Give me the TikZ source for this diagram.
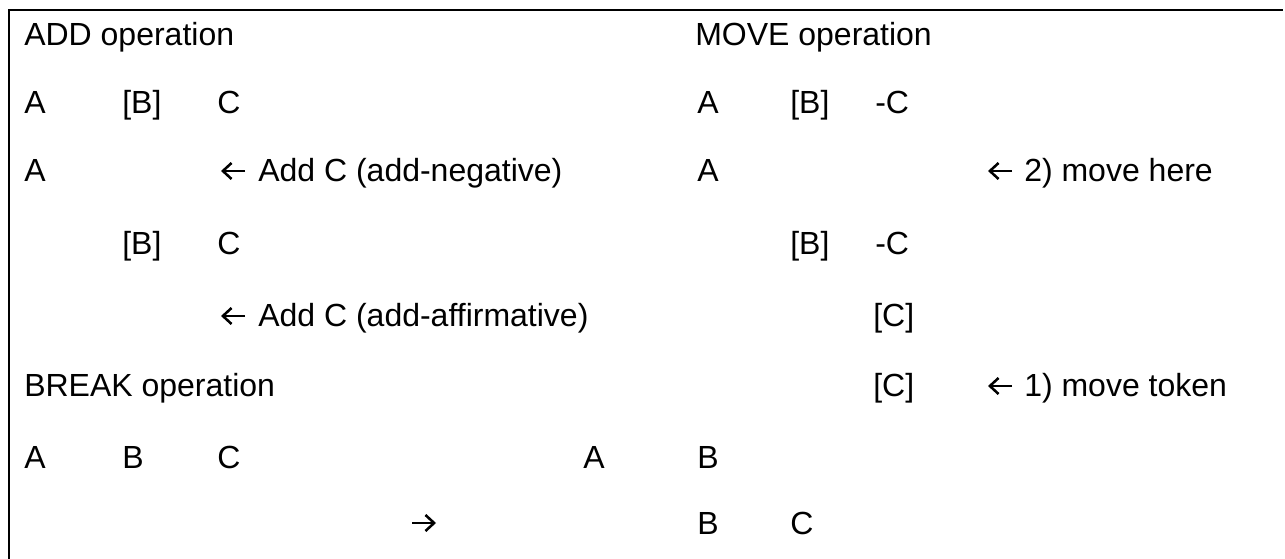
\documentclass[tikz,border=0pt]{standalone}
\usepackage{fontspec}
\setmainfont{Liberation Sans}
\usetikzlibrary{arrows.meta,calc}
\begin{document}
\begin{tikzpicture}[x=0.75pt,y=-0.75pt,
  txt/.style={anchor=base west, inner sep=0pt, font=\fontsize{24}{29}\selectfont},
  frame/.style={line width=2.2pt, line cap=rect},
  pointer/.style={line width=1.9pt, -{Straight Barb[length=6.5pt,width=12pt,line width=1.9pt]}}]
\useasboundingbox (0,0) rectangle (1285,559);
% open frame: top rule and left rule
\coordinate (tr) at (1282,10);
\coordinate (tl) at (9,10);
\coordinate (bl) at (9,559);
\draw[frame] (tr) -- (tl) -- (bl);

% ADD operation
\node[txt] (addT) at (24,46) {ADD operation};
\node[txt] (a1) at (24,114) {A};
\node[txt] (b1) at (122,114) {[B]};
\node[txt] (c1) at (217,114) {C};
\node[txt] (a2) at (24,182) {A};
\node[txt] (n2) at (258,182) {Add C (add-negative)};
\node[txt] (b3) at (122,255) {[B]};
\node[txt] (c3) at (217,255) {C};
\node[txt] (n4) at (258,327) {Add C (add-affirmative)};
\draw[pointer] ($(n2.base west)+(-13,-11)$) -- ++(-24,0);
\draw[pointer] ($(n4.base west)+(-13,-11)$) -- ++(-24,0);

% BREAK operation
\node[txt] (brT) at (24,397) {BREAK operation};
\node[txt] (a5) at (24,468) {A};
\node[txt] (b5) at (122,468) {B};
\node[txt] (c5) at (217,468) {C};
\node[txt] (a6) at (583,468) {A};
\node[txt] (b6) at (697,468) {B};
\node[txt] (b7) at (697,534) {B};
\node[txt] (c7) at (790,534) {C};
\coordinate (brk) at (412,523);
\draw[pointer] (brk) -- ++(24,0);

% MOVE operation
\node[txt] (mvT) at (695,46) {MOVE operation};
\node[txt] (ma1) at (697,114) {A};
\node[txt] (mb1) at (790,114) {[B]};
\node[txt] (mc1) at (875,114) {-C};
\node[txt] (ma2) at (697,182) {A};
\node[txt] (mn2) at (1024,182) {2) move here};
\node[txt] (mb3) at (790,255) {[B]};
\node[txt] (mc3) at (875,255) {-C};
\node[txt] (mk4) at (873,327) {[C]};
\node[txt] (mk5) at (873,397) {[C]};
\node[txt] (mn5) at (1024,397) {1) move token};
\draw[pointer] ($(mn2.base west)+(-12,-11)$) -- ++(-24,0);
\draw[pointer] ($(mn5.base west)+(-12,-11)$) -- ++(-24,0);
\end{tikzpicture}
\end{document}
